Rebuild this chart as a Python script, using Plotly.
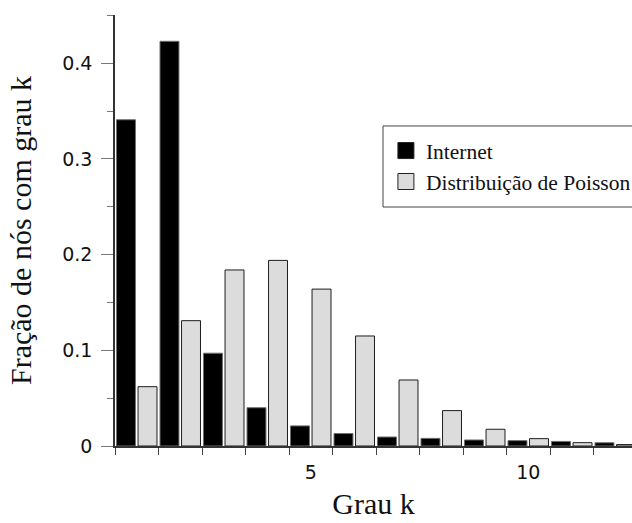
import plotly.graph_objects as go

# Degree k of each node group
grau = [1, 2, 3, 4, 5, 6, 7, 8, 9, 10, 11, 12]

# Fraction of nodes with degree k
internet = [0.341, 0.423, 0.097, 0.040, 0.021, 0.013, 0.0094, 0.008, 0.0063, 0.0056, 0.0048, 0.0034]
poisson = [0.062, 0.131, 0.184, 0.194, 0.164, 0.115, 0.069, 0.037, 0.0175, 0.0077, 0.0035, 0.0015]

nomes = ["Internet", "Distribuição de Poisson"]
cores = ["#000000", "#dcdcdc"]
bordas = ["#6e6e6e", "#1e1e1e"]

serif = "Liberation Serif"
sans = "DejaVu Sans"

fig = go.Figure()
for nome, valores, cor, borda in zip(nomes, [internet, poisson], cores, bordas):
    fig.add_trace(go.Bar(
        x=grau, y=valores, name=nome, showlegend=False,
        marker=dict(color=cor, line=dict(color=borda, width=1)),
    ))
    # legend swatch with a larger square than the default bar glyph
    fig.add_trace(go.Scatter(
        x=[None], y=[None], mode="markers", name=nome,
        marker=dict(symbol="square", size=16, color=cor,
                    line=dict(color="#222222", width=1)),
    ))

fig.update_layout(
    width=632, height=523,
    margin=dict(l=115, r=0, t=15, b=77, autoexpand=False),
    paper_bgcolor="white", plot_bgcolor="white",
    barmode="group", bargap=0.01, bargroupgap=0.12,
    legend=dict(
        x=0.524, y=0.733, xanchor="left", yanchor="top",
        bgcolor="rgba(0,0,0,0)", borderwidth=0,
        font=dict(family=serif, size=21.5, color="#111111"),
        tracegroupgap=0,
    ),
    # legend frame, running off the right edge of the page
    shapes=[dict(
        type="rect", xref="paper", yref="paper",
        x0=0.5184, x1=1.06, y0=0.5545, y1=0.7425,
        line=dict(color="#444444", width=1), fillcolor="white", layer="above",
    )],
)

fig.update_xaxes(
    range=[0.5, 12.385],
    tickmode="array", tickvals=[5, 10], ticktext=["5", "10"],
    ticks="outside", ticklen=8, tickcolor="rgba(0,0,0,0)",
    minor=dict(tickmode="array", tickvals=[g - 0.5 for g in grau] + [grau[-1] + 0.5],
               ticks="outside", ticklen=7, tickwidth=1.2, tickcolor="#444444",
               showgrid=False),
    showline=True, linecolor="#333333", linewidth=1.5,
    showgrid=False, zeroline=False,
    tickfont=dict(family=sans, size=19, color="#111111"),
    title=dict(text="Grau k", font=dict(family=serif, size=30, color="#111111"), standoff=11),
)

fig.update_yaxes(
    range=[0, 0.4505],
    tickmode="linear", tick0=0, dtick=0.1,
    ticks="outside", ticklen=12, tickwidth=1.2, tickcolor="#777777",
    ticklabelstandoff=5,
    minor=dict(tickmode="linear", tick0=0, dtick=0.05, ticks="outside",
               ticklen=6, tickwidth=1.2, tickcolor="#777777", showgrid=False),
    showline=True, linecolor="#333333", linewidth=1.5,
    showgrid=False, zeroline=False,
    tickfont=dict(family=sans, size=19, color="#111111"),
    title=dict(text="Fração de nós com grau k",
               font=dict(family=serif, size=30, color="#111111"), standoff=22),
)

fig.write_html("out.html")
